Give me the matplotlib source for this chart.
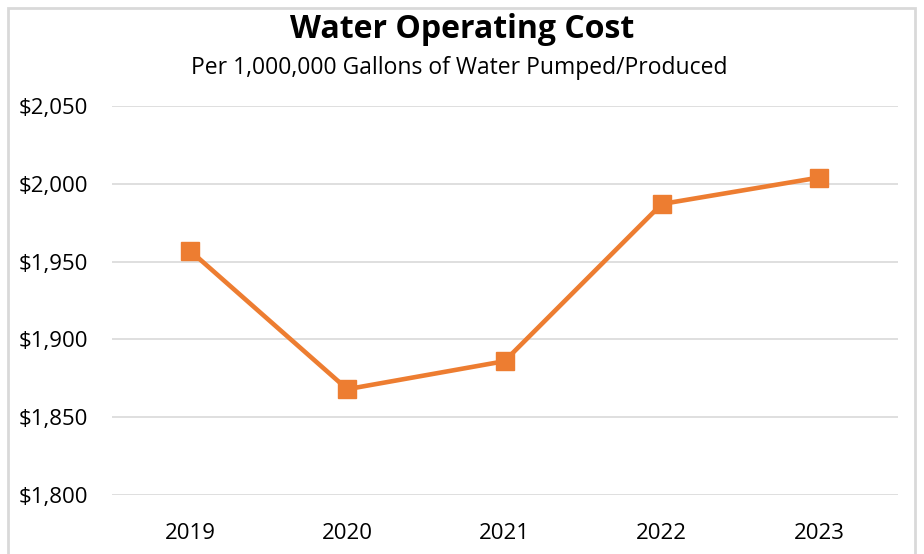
import matplotlib
matplotlib.use("Agg")
import matplotlib.pyplot as plt
from matplotlib.patches import Rectangle
from matplotlib.ticker import FuncFormatter

years = ["2019", "2020", "2021", "2022", "2023"]
costs = [1957, 1868, 1886, 1987, 2004]
y_ticks = [1800, 1850, 1900, 1950, 2000, 2050]

plt.rcParams['font.family'] = ['Open Sans', 'DejaVu Sans']

fig = plt.figure(figsize=(9.24, 5.54), dpi=100)
W, H = 924, 554
ax = fig.add_axes([111.5 / W, 1 - 495 / H, (897.5 - 111.5) / W, (495 - 106) / H])

x = list(range(len(years)))
ax.plot(x, costs, color="#ED7D31", linewidth=3.3, marker="s", markersize=13,
        markeredgecolor="#ED7D31", markerfacecolor="#ED7D31", zorder=3, clip_on=False)

ax.set_xlim(-0.5, len(years) - 0.5)
ax.set_ylim(1800, 2050)
ax.set_yticks(y_ticks)
ax.yaxis.set_major_formatter(FuncFormatter(lambda v, p: "${:,.0f}".format(v)))
ax.set_xticks(x)
ax.set_xticklabels(years)
ax.grid(axis="y", color="#D9D9D9", linewidth=1.2)
ax.set_axisbelow(True)
for s in ax.spines.values():
    s.set_visible(False)
ax.tick_params(axis="both", length=0, labelsize=16, colors="#000000")
ax.tick_params(axis="y", pad=17)
ax.tick_params(axis="x", pad=20)

fig.text(462 / W, 1 - 30 / H, "Water Operating Cost", ha="center", va="center",
         fontsize=23, fontweight="bold", color="#000000")
fig.text(459 / W, 1 - 68 / H, "Per 1,000,000 Gallons of Water Pumped/Produced",
         ha="center", va="center", fontsize=16.5, color="#000000")

fig.patches.append(Rectangle((8 / W, -0.05), (915 - 8) / W, 1 - 8 / H + 0.05,
                             transform=fig.transFigure, fill=False,
                             edgecolor="#D9D9D9", linewidth=2))

fig.savefig("out.png", dpi=100, facecolor="white")
